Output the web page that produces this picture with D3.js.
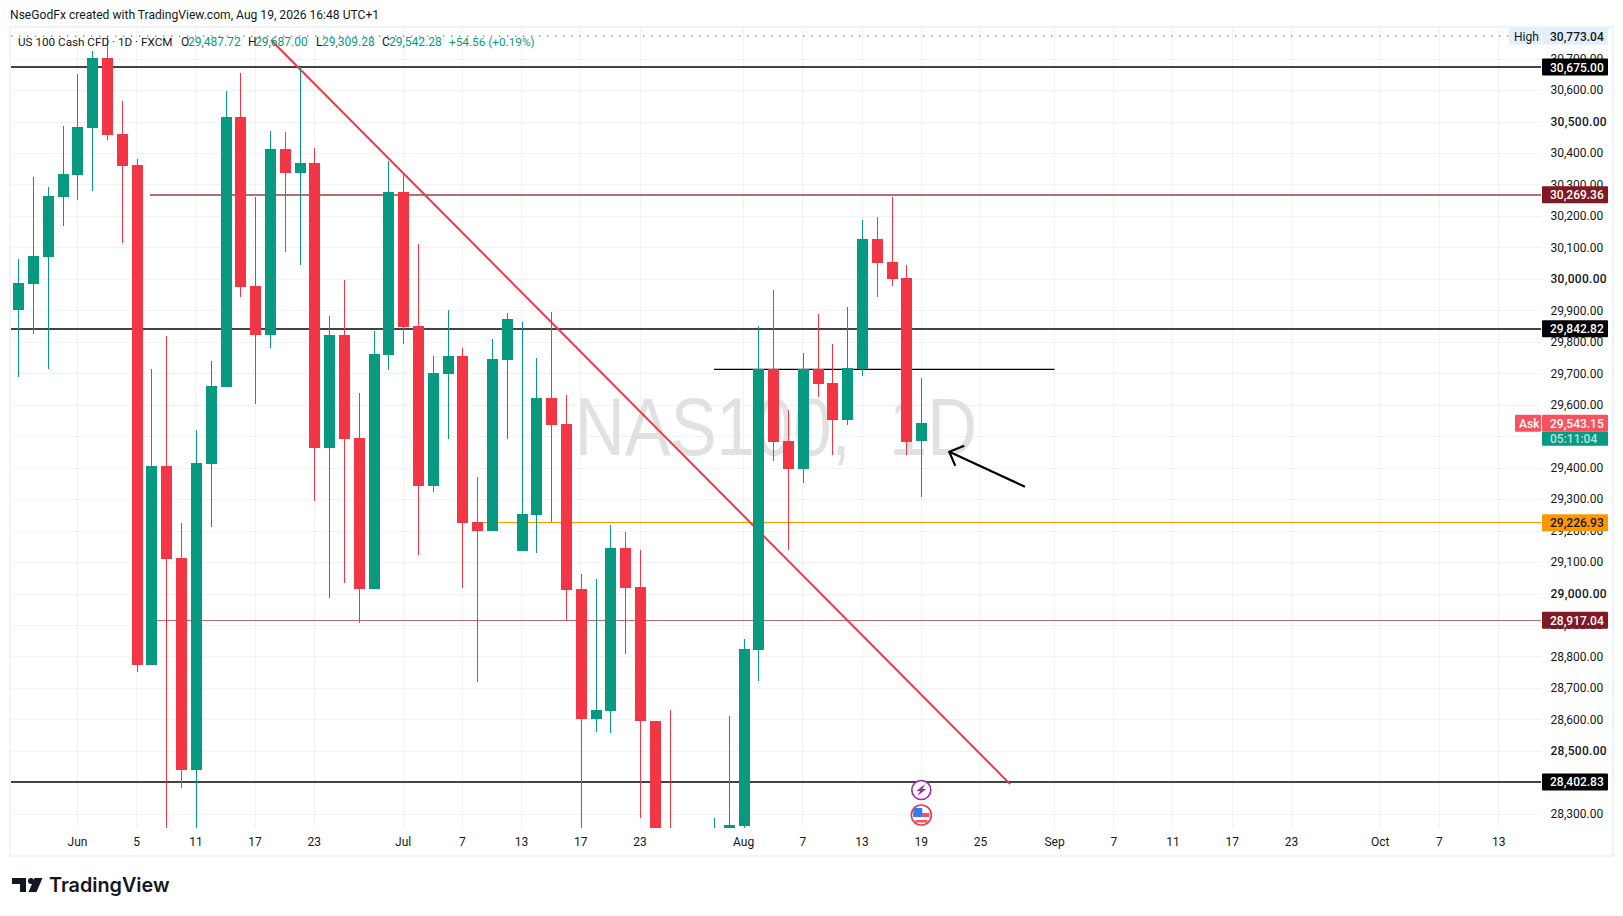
<!DOCTYPE html>
<html>
<head>
<meta charset="utf-8">
<title>NAS100 1D</title>
<script src="https://cdn.jsdelivr.net/npm/d3@7"></script>
<style>
  html, body { margin: 0; padding: 0; background: #fff; }
  svg { display: block; font-family: Roboto, sans-serif; }
</style>
</head>
<body>
<script>
// daily bars (45-47 sit below the visible range, so rough guesses)
const opens  = [29902,29985,30072,30262,30333,30481,30704,30462,30364,28776,29406,29113,28442,29412,29657,30516,29979,29823,30415,30338,30370,29463,29823,29495,29015,29759,30278,29851,29342,29699,29756,29228,29199,29743,29136,29250,29622,29540,29015,28604,28627,29145,29021,28598,28200,28100,28040,28080,28120,28264,28821,29715,29486,29397,29715,29670,29552,29715,30128,30055,30004,29487.72];
const highs  = [30065,30325,30294,30488,30653,30726,30773.04,30567,30383,29715,29820,29225,29521,29740,30599,30656,30262,30472,30469,30675,30418,29883,29998,29638,29836,30376,30332,30112,29756,29902,29781,29371,29810,29893,29864,29750,29896,29632,29063,29047,29218,29196,29139,28598,28633,28180,28150,28289,28611,28856,29851,29966,29584,29766,29890,29794,29912,30189,30198,30262,30045,29687];
const lows   = [29690,29827,29715,30170,30252,30281,30443,30115,28751,28776,28216,28385,28200,29212,29657,29944,29603,29781,30087,30045,29295,28989,29034,28907,29015,29711,29794,29123,29323,29492,29018,28722,29199,29492,29136,29132,29228,28916,28200,28563,28557,28811,28289,28120,28080,28000,27980,28040,28100,28200,28725,29422,29139,29352,29626,29441,29536,29692,29944,29979,29441,29309.28];
const closes = [29988,30074,30265,30335,30484,30704,30459,30360,28776,29406,29110,28442,29416,29661,30516,29976,29823,30415,30338,30370,29463,29823,29492,29015,29762,30278,29848,29342,29702,29756,29225,29199,29746,29874,29253,29622,29536,29012,28604,28630,29145,29018,28595,28150,28120,28060,28110,28220,28267,28824,29715,29482,29397,29715,29667,29552,29718,30128,30052,30001,29482,29542.28];

const priceTicks = d3.range(28300, 30701, 100);
const timeTickBars = [4,8,12,16,20,26,30,34,38,42,49,53,57,61,65,70,74,78,82,86,92,96,100];
const timeTickLabels = ['Jun','5','11','17','23','Jul','7','13','17','23','Aug','7','13','19','25','Sep','7','11','17','23','Oct','7','13'];

// horizontal drawings: price, first bar, colour, thickness
const levelPrices = [30675, 30269.36, 29842.82, 29226.93, 28917.04, 28402.83];
const levelStarts = [-1, 8.9, -1, 31, 9.4, -1];
const levelColors = ['#434343', '#b26f74', '#434343', '#ff9800', '#c0696f', '#434343'];
const levelWidths = [2, 2, 2, 1, 1, 2];
const tagColors = ['#000000', '#801922', '#000000', '#ff9800', '#801922', '#000000'];
const tagText = ['#ffffff', '#ffffff', '#ffffff', '#131722', '#ffffff', '#ffffff'];

const boxPrice = 29714, boxFrom = 47, boxTo = 70;
const trendBars = [17.07, 67], trendPrices = [30761, 28396];
const arrowBars = [68, 62.89], arrowPrices = [29341, 29452];
const allTimeHigh = 30773.04;
const askPrice = 29543.15;

const W = 1623, H = 916;
const plot = { left: 11, right: 1541, top: 27, bottom: 828 };

const svg = d3.select('body').append('svg').attr('width', W).attr('height', H);

const x = d3.scaleLinear().domain([0, 61]).range([18.25, 921.3]);
const y = d3.scaleLinear().domain([30600, 28300]).range([90.6, 814.3]);
const green = '#089981', red = '#f23645', gridCol = '#f1f2f4';

svg.append('text').attr('x', 10).attr('y', 19)
  .attr('font-size', 12.1).attr('fill', '#131722')
  .text('NseGodFx created with TradingView.com, Aug 19, 2026 16:48 UTC+1');

// frame
svg.append('rect').attr('x', 10).attr('y', 27).attr('width', 1603).attr('height', 829)
  .attr('fill', 'none').attr('stroke', '#f0f3fa').attr('stroke-width', 2);

svg.append('clipPath').attr('id', 'plotClip').append('rect')
  .attr('x', plot.left).attr('y', plot.top)
  .attr('width', plot.right - plot.left).attr('height', plot.bottom - plot.top);

// grid
const grid = svg.append('g').attr('shape-rendering', 'crispEdges').attr('stroke', gridCol);
grid.selectAll('line.h').data(priceTicks).enter().append('line').attr('class', 'h')
  .attr('x1', plot.left).attr('x2', plot.right)
  .attr('y1', d => y(d)).attr('y2', d => y(d));
grid.selectAll('line.v').data(timeTickBars).enter().append('line').attr('class', 'v')
  .attr('y1', plot.top).attr('y2', plot.bottom)
  .attr('x1', d => x(d)).attr('x2', d => x(d));

// watermark
svg.append('text').attr('x', 575).attr('y', 455)
  .attr('font-family', '"Liberation Sans", sans-serif')
  .attr('font-size', 81).attr('fill', '#e1e1e1')
  .attr('textLength', 402).attr('lengthAdjust', 'spacingAndGlyphs')
  .style('white-space', 'pre')
  .text('NAS100,  1D');

const chart = svg.append('g').attr('clip-path', 'url(#plotClip)');

// ATH dotted line
chart.append('line').attr('x1', plot.left).attr('x2', 1509)
  .attr('y1', y(allTimeHigh)).attr('y2', y(allTimeHigh))
  .attr('stroke', '#787b86').attr('stroke-width', 1.4).attr('stroke-dasharray', '1.4 6.6');

// levels
chart.append('g').selectAll('line').data(levelPrices).enter().append('line')
  .attr('shape-rendering', 'crispEdges')
  .attr('x1', (d, i) => levelStarts[i] < 0 ? plot.left : x(levelStarts[i]))
  .attr('x2', plot.right)
  .attr('y1', d => y(d)).attr('y2', d => y(d))
  .attr('stroke', (d, i) => levelColors[i])
  .attr('stroke-width', (d, i) => levelWidths[i]);

chart.append('line')
  .attr('x1', x(boxFrom)).attr('x2', x(boxTo))
  .attr('y1', y(boxPrice)).attr('y2', y(boxPrice))
  .attr('stroke', '#000').attr('stroke-width', 1.2);

// trend line
chart.append('line')
  .attr('x1', x(trendBars[0])).attr('y1', y(trendPrices[0]))
  .attr('x2', x(trendBars[1])).attr('y2', y(trendPrices[1]))
  .attr('stroke', red).attr('stroke-width', 2);

// candles
const bars = chart.append('g').selectAll('g').data(opens).enter().append('g')
  .attr('fill', (d, i) => closes[i] >= d ? green : red)
  .attr('shape-rendering', 'crispEdges');
bars.append('rect')
  .attr('x', (d, i) => Math.round(x(i)) - 0.5).attr('width', 1)
  .attr('y', (d, i) => y(highs[i]))
  .attr('height', (d, i) => y(lows[i]) - y(highs[i]));
bars.append('rect')
  .attr('x', (d, i) => Math.round(x(i)) - 5.5).attr('width', 11)
  .attr('y', (d, i) => y(Math.max(d, closes[i])))
  .attr('height', (d, i) => Math.abs(y(d) - y(closes[i])));

// arrow
const ax0 = x(arrowBars[0]), ay0 = y(arrowPrices[0]);
const ax1 = x(arrowBars[1]), ay1 = y(arrowPrices[1]);
chart.append('path')
  .attr('d', `M${ax0},${ay0}L${ax1},${ay1}M${ax1 + 15},${ay1 - 6}L${ax1},${ay1}L${ax1 + 6},${ay1 + 14}`)
  .attr('fill', 'none').attr('stroke', '#000').attr('stroke-width', 2.2);

// legend row
const legend = svg.append('g').attr('font-size', 12).attr('fill', '#131722');
const legendRow = [
  [18, 'US 100 Cash CFD · 1D · FXCM', '#131722', 11.7],
  [181, 'O', '#131722', 12], [188, '29,487.72', green, 12],
  [248, 'H', '#131722', 12], [255, '29,687.00', green, 12],
  [316, 'L', '#131722', 12], [322, '29,309.28', green, 12],
  [382, 'C', '#131722', 12], [389, '29,542.28', green, 12],
  [449, '+54.56 (+0.19%)', green, 11.8]
];
legend.selectAll('text').data(legendRow).enter().append('text')
  .attr('x', d => d[0]).attr('y', 46).attr('fill', d => d[2])
  .attr('font-size', d => d[3]).text(d => d[1]);

// event icons under the last bar
const ix = x(61);
const icons = svg.append('g');
icons.append('circle').attr('cx', ix).attr('cy', 790).attr('r', 9.5)
  .attr('fill', '#fff').attr('stroke', '#9c27b0').attr('stroke-width', 1.6);
icons.append('path').attr('fill', '#9c27b0')
  .attr('d', `M${ix + 4},${784}L${ix - 5},${791}L${ix - 1},${791}L${ix - 4},${796}L${ix + 5},${789}L${ix + 1},${789}Z`);
icons.append('circle').attr('cx', ix).attr('cy', 815).attr('r', 10)
  .attr('fill', '#fff').attr('stroke', '#f23645').attr('stroke-width', 1.6);
icons.append('rect').attr('x', ix - 8).attr('y', 813).attr('width', 16).attr('height', 4).attr('fill', '#f7525f');
icons.append('rect').attr('x', ix - 6).attr('y', 820).attr('width', 12).attr('height', 2.5).attr('fill', '#f7525f');
icons.append('rect').attr('x', ix - 8).attr('y', 808).attr('width', 9).attr('height', 9).attr('fill', '#2f80ed');

// price axis
const axisY = d3.axisRight(y).tickValues(priceTicks).tickSize(0).tickPadding(0)
  .tickFormat(d3.format(',.2f'));
const yAxisG = svg.append('g').attr('transform', 'translate(1550.5,-0.5)').call(axisY);
yAxisG.select('.domain').remove();
yAxisG.selectAll('text').attr('font-size', 12).attr('fill', '#131722')
  .attr('font-family', 'Roboto, sans-serif')
  .attr('font-weight', d => d % 500 === 0 ? 500 : 400)
  .attr('letter-spacing', d => d % 500 === 0 ? 0.3 : 0);

// time axis
const axisX = d3.axisBottom(x).tickValues(timeTickBars).tickSize(0).tickPadding(0)
  .tickFormat((d, i) => timeTickLabels[i]);
const xAxisG = svg.append('g').attr('transform', 'translate(-0.5,837)').call(axisX);
xAxisG.select('.domain').remove();
xAxisG.selectAll('text').attr('font-size', 12).attr('fill', '#131722')
  .attr('font-family', 'Roboto, sans-serif');

// tags on the price axis
function tag(val, label, bg, fg) {
  svg.append('rect').attr('x', 1542).attr('y', y(val) - 8.5).attr('width', 66).attr('height', 17)
    .attr('fill', bg).attr('rx', 1);
  svg.append('text').attr('x', 1550).attr('y', y(val) + 4.5)
    .attr('font-size', 12).attr('font-weight', 500).attr('fill', fg).text(label);
}
levelPrices.forEach((p, i) => tag(p, d3.format(',.2f')(p), tagColors[i], tagText[i]));

// high
tag(allTimeHigh, d3.format(',.2f')(allTimeHigh), '#e3effd', '#131722');
svg.append('rect').attr('x', 1509).attr('y', y(allTimeHigh) - 8.5).attr('width', 32).attr('height', 17).attr('fill', '#e3effd');
svg.append('text').attr('x', 1514).attr('y', y(allTimeHigh) + 4.5).attr('font-size', 12).attr('fill', '#131722').text('High');

// ask + countdown
tag(askPrice, d3.format(',.2f')(askPrice), '#f7525f', '#fff');
svg.append('rect').attr('x', 1515).attr('y', y(askPrice) - 8.5).attr('width', 26).attr('height', 17).attr('fill', '#f7525f').attr('rx', 1);
svg.append('text').attr('x', 1519).attr('y', y(askPrice) + 4.5).attr('font-size', 12).attr('font-weight', 500).attr('fill', '#fff').text('Ask');
svg.append('rect').attr('x', 1542).attr('y', y(askPrice) + 8.5).attr('width', 66).attr('height', 14).attr('fill', green).attr('rx', 1);
svg.append('text').attr('x', 1550).attr('y', y(askPrice) + 19.5).attr('font-size', 12).attr('font-weight', 500)
  .attr('fill', '#b8e3da').text('05:11:04');

// logo
const logo = svg.append('g').attr('fill', '#131722');
logo.append('path').attr('d', 'M12,878H26V892H20V884H12Z');
logo.append('circle').attr('cx', 31).attr('cy', 881).attr('r', 3);
logo.append('path').attr('d', 'M34.5,878H42.5L36.5,892H28.5Z');
logo.append('text').attr('x', 49).attr('y', 892)
  .attr('font-family', 'Inter, sans-serif').attr('font-weight', 600)
  .attr('font-size', 19.8).text('TradingView');
</script>
</body>
</html>
